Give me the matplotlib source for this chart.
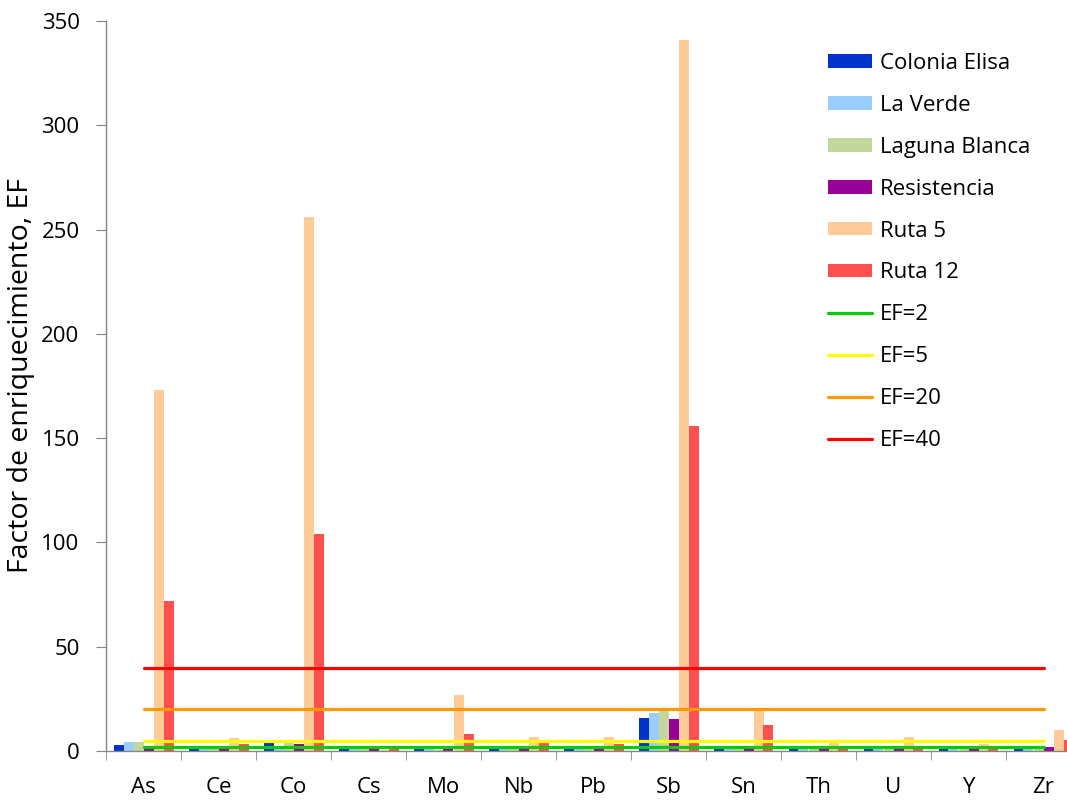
import matplotlib
matplotlib.use("Agg")
import matplotlib.pyplot as plt
import numpy as np

plt.rcParams['font.family'] = ['Open Sans', 'DejaVu Sans']

categories = ["As", "Ce", "Co", "Cs", "Mo", "Nb", "Pb", "Sb", "Sn", "Th", "U", "Y", "Zr"]
series_names = ["Colonia Elisa", "La Verde", "Laguna Blanca", "Resistencia", "Ruta 5", "Ruta 12"]
colonia_elisa = [2.9, 1.0, 3.7, 1.0, 1.0, 1.0, 1.0, 15.7, 1.0, 1.0, 1.0, 1.0, 1.0]
la_verde      = [4.2, 1.0, 1.5, 1.0, 1.0, 1.0, 1.0, 18.0, 1.0, 1.0, 1.0, 1.0, 1.0]
laguna_blanca = [4.2, 1.0, 4.3, 1.0, 0.5, 1.0, 1.0, 19.3, 1.0, 1.0, 1.0, 1.0, 1.0]
resistencia   = [1.5, 1.0, 3.5, 1.0, 1.0, 1.0, 1.0, 15.2, 1.0, 1.0, 1.0, 1.0, 1.9]
ruta_5        = [173, 6.4, 256, 0.3, 26.8, 6.5, 6.5, 341, 19.7, 4.5, 6.5, 3.4, 10.0]
ruta_12       = [72, 3.5, 104, 1.5, 8.1, 3.7, 3.5, 156, 12.3, 1.5, 1.5, 2.0, 5.3]
ef_levels = [2, 5, 20, 40]
ef_labels = ["EF=2", "EF=5", "EF=20", "EF=40"]

series = [colonia_elisa, la_verde, laguna_blanca, resistencia, ruta_5, ruta_12]
bar_colors = ["#0033CC", "#99CCFF", "#C3D69B", "#990099", "#FFCC99", "#FF5050"]
line_colors = ["#00CC00", "#FFFF00", "#FF9900", "#FF0000"]

fig = plt.figure(figsize=(10.67, 8.02), dpi=100)
ax = fig.add_axes([106/1067, 1-751/802, 975/1067, 730/802])

x = np.arange(len(categories))
n = len(series)
group_w = 0.8
bw = group_w / n
handles = []
for i, (vals, name, c) in enumerate(zip(series, series_names, bar_colors)):
    h = ax.bar(x - group_w/2 + bw*(i+0.5), vals, width=bw, color=c, label=name, zorder=2)
    handles.append(h)

for lvl, lab, c in zip(ef_levels, ef_labels, line_colors):
    h, = ax.plot(x, [lvl]*len(x), color=c, lw=2.3, label=lab, zorder=3, solid_capstyle='round')
    handles.append(h)

ax.set_xlim(-0.5, len(categories)-0.5)
ax.set_ylim(0, 350)
ax.set_yticks(np.arange(0, 351, 50))
ax.set_xticks(x)
ax.set_xticklabels(categories)
ax.set_xticks(np.arange(-0.5, len(categories), 1), minor=True)
ax.tick_params(axis='x', which='major', length=0, pad=19, labelsize=16)
ax.tick_params(axis='x', which='minor', length=6.5, color='#868686', direction='out')
ax.tick_params(axis='y', length=7, color='#868686', labelsize=16, pad=12)
for s in ['top', 'right']:
    ax.spines[s].set_visible(False)
for s in ['left', 'bottom']:
    ax.spines[s].set_color('#868686')
    ax.spines[s].set_linewidth(1)
ax.set_ylabel("Factor de enriquecimiento, EF", fontsize=20.5)
ax.yaxis.set_label_coords(-0.073, 0.514)

leg = ax.legend(handles=handles, labels=series_names + ef_labels,
                loc='upper left', bbox_to_anchor=(828/1067, 1-53/802),
                bbox_transform=fig.transFigure, frameon=False, fontsize=16,
                handlelength=2.0, handleheight=0.55, labelspacing=0.94,
                handletextpad=0.35, borderpad=0, borderaxespad=0)

fig.savefig("out.png", dpi=100)
